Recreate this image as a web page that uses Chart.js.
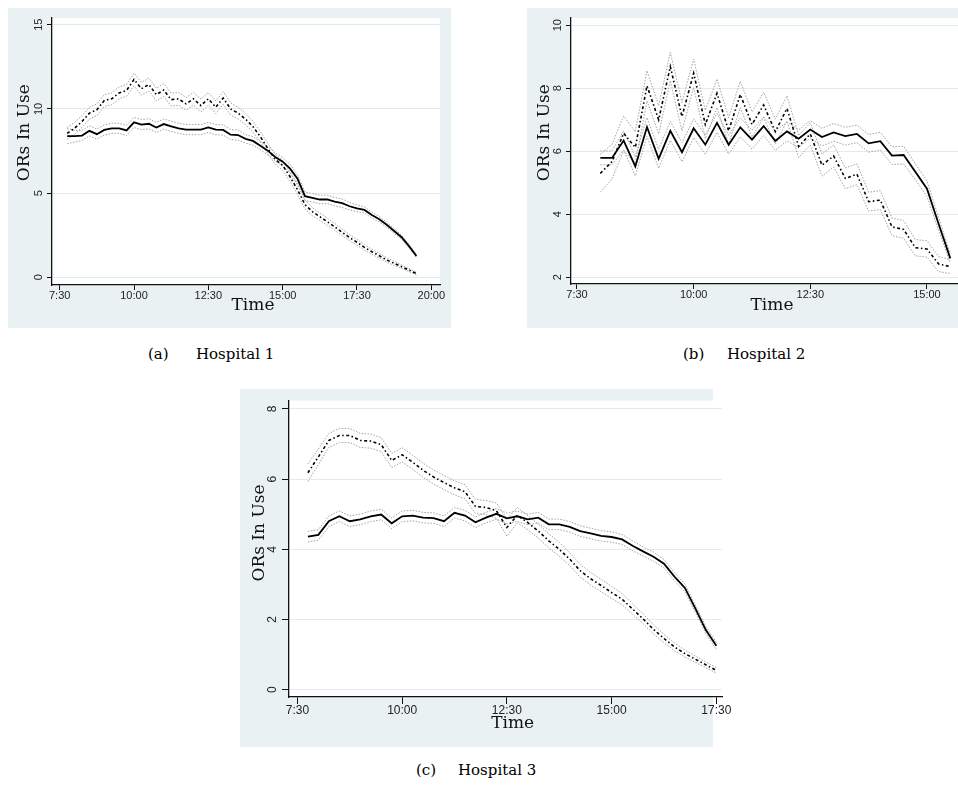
<!DOCTYPE html>
<html><head><meta charset="utf-8">
<script src="https://cdn.jsdelivr.net/npm/chart.js@4.4.1/dist/chart.umd.min.js"></script>
<style>
html,body{margin:0;padding:0;background:#fff;width:958px;height:790px;overflow:hidden;}
.panel{position:absolute;background:rgb(234,241,243);}
canvas{position:absolute;}
.cap{position:absolute;font-family:"DejaVu Serif",serif;font-size:15px;line-height:18px;color:#000;white-space:pre;}
</style></head><body>
<div class="panel" style="left:8px;top:8px;width:443px;height:320px"></div>
<div class="panel" style="left:527px;top:8px;width:431px;height:320px"></div>
<div class="panel" style="left:240px;top:389px;width:473px;height:358px"></div>
<canvas id="cA" width="443" height="320" style="left:8px;top:8px"></canvas>
<canvas id="cB" width="431" height="320" style="left:527px;top:8px"></canvas>
<canvas id="cC" width="495" height="358" style="left:240px;top:389px"></canvas>
<div class="cap" style="left:148px;top:345px">(a)</div><div class="cap" style="left:196px;top:345px">Hospital 1</div>
<div class="cap" style="left:683px;top:345px">(b)</div><div class="cap" style="left:727px;top:345px">Hospital 2</div>
<div class="cap" style="left:416px;top:761px">(c)</div><div class="cap" style="left:458px;top:761px">Hospital 3</div>
<script>
// ---------- DATA ----------
const timesA = ['7:45','8:00','8:15','8:30','8:45','9:00','9:15','9:30','9:45','10:00','10:15','10:30','10:45','11:00','11:15','11:30','11:45','12:00','12:15','12:30','12:45','13:00','13:15','13:30','13:45','14:00','14:15','14:30','14:45','15:00','15:15','15:30','15:45','16:00','16:15','16:30','16:45','17:00','17:15','17:30','17:45','18:00','18:15','18:30','18:45','19:00','19:15','19:30'];
const solidA = [8.38,8.38,8.42,8.7,8.5,8.75,8.85,8.85,8.72,9.2,9.07,9.12,8.9,9.1,8.97,8.85,8.77,8.77,8.77,8.9,8.77,8.75,8.47,8.45,8.22,8.1,7.82,7.52,7.15,6.87,6.45,5.85,4.82,4.72,4.62,4.63,4.49,4.4,4.22,4.1,4.0,3.7,3.45,3.12,2.75,2.38,1.85,1.27];
const solidCiA = [0.45,0.35,0.3,0.3,0.3,0.3,0.3,0.3,0.3,0.3,0.3,0.3,0.3,0.3,0.3,0.3,0.3,0.3,0.3,0.3,0.3,0.3,0.3,0.3,0.25,0.25,0.25,0.25,0.25,0.25,0.25,0.25,0.25,0.25,0.25,0.25,0.25,0.25,0.22,0.2,0.18,0.18,0.16,0.15,0.14,0.12,0.1,0.08];
const dashA = [8.55,8.85,9.25,9.75,9.95,10.5,10.6,10.95,11.1,11.75,11.2,11.45,10.85,11.12,10.55,10.6,10.3,10.6,10.2,10.6,10.1,10.65,10.0,9.75,9.4,8.95,8.35,7.65,7.0,6.65,5.97,5.2,4.32,3.9,3.6,3.3,3.0,2.67,2.36,2.08,1.78,1.52,1.28,1.03,0.83,0.63,0.43,0.22];
const dashCiA = [0.35,0.35,0.35,0.35,0.35,0.35,0.35,0.35,0.35,0.38,0.38,0.38,0.38,0.38,0.38,0.38,0.38,0.38,0.38,0.38,0.38,0.38,0.36,0.35,0.33,0.32,0.3,0.3,0.3,0.3,0.28,0.28,0.26,0.24,0.22,0.22,0.2,0.2,0.18,0.17,0.16,0.15,0.14,0.13,0.12,0.1,0.09,0.08];
const xTicksA = [450,600,750,900,1050,1200];
const xLabelsA = ['7:30','10:00','12:30','15:00','17:30','20:00'];
const yTicksA = [0,5,10,15];
const yLabelsA = ['0','5','10','15'];

const timesB = ['8:00','8:15','8:30','8:45','9:00','9:15','9:30','9:45','10:00','10:15','10:30','10:45','11:00','11:15','11:30','11:45','12:00','12:15','12:30','12:45','13:00','13:15','13:30','13:45','14:00','14:15','14:30','14:45','15:00','15:15','15:30'];
const solidB = [5.79,5.79,6.34,5.52,6.77,5.76,6.65,5.97,6.73,6.21,6.9,6.21,6.76,6.37,6.8,6.33,6.63,6.4,6.69,6.45,6.6,6.48,6.55,6.25,6.32,5.86,5.88,5.35,4.81,3.69,2.6];
const solidCiB = [0.22,0.22,0.3,0.3,0.3,0.3,0.3,0.3,0.3,0.3,0.3,0.3,0.3,0.3,0.3,0.3,0.3,0.28,0.28,0.28,0.28,0.28,0.28,0.28,0.28,0.28,0.28,0.25,0.25,0.2,0.15];
const dashB = [5.3,5.67,6.57,6.12,8.08,7.0,8.69,7.1,8.48,6.85,7.84,6.65,7.8,6.85,7.47,6.62,7.36,6.15,6.55,5.56,5.85,5.14,5.27,4.4,4.45,3.6,3.52,2.94,2.9,2.42,2.34];
const dashCiB = [0.6,0.55,0.55,0.5,0.48,0.45,0.45,0.45,0.45,0.45,0.45,0.42,0.42,0.4,0.4,0.4,0.4,0.35,0.35,0.35,0.35,0.33,0.33,0.3,0.3,0.28,0.28,0.26,0.26,0.24,0.22];
const xTicksB = [450,600,750,900];
const xLabelsB = ['7:30','10:00','12:30','15:00'];
const yTicksB = [2,4,6,8,10];
const yLabelsB = ['2','4','6','8','10'];

const timesC = ['7:45','8:00','8:15','8:30','8:45','9:00','9:15','9:30','9:45','10:00','10:15','10:30','10:45','11:00','11:15','11:30','11:45','12:00','12:15','12:30','12:45','13:00','13:15','13:30','13:45','14:00','14:15','14:30','14:45','15:00','15:15','15:30','15:45','16:00','16:15','16:30','16:45','17:00','17:15','17:30'];
const solidC = [4.36,4.41,4.8,4.94,4.8,4.85,4.94,4.99,4.74,4.94,4.96,4.9,4.89,4.8,5.04,4.96,4.77,4.9,5.01,4.88,4.94,4.85,4.9,4.71,4.71,4.64,4.52,4.45,4.38,4.35,4.28,4.1,3.94,3.79,3.59,3.22,2.9,2.31,1.7,1.25];
const solidCiC = [0.15,0.15,0.15,0.15,0.15,0.15,0.15,0.15,0.15,0.15,0.15,0.15,0.15,0.15,0.15,0.15,0.15,0.15,0.15,0.15,0.15,0.15,0.15,0.15,0.15,0.15,0.15,0.15,0.15,0.15,0.14,0.14,0.13,0.13,0.12,0.12,0.11,0.1,0.1,0.1];
const dashC = [6.18,6.63,7.1,7.24,7.24,7.1,7.08,6.98,6.53,6.69,6.48,6.25,6.06,5.9,5.75,5.64,5.22,5.19,5.1,4.62,4.97,4.76,4.52,4.24,4.0,3.72,3.39,3.16,2.97,2.77,2.58,2.3,2.02,1.72,1.46,1.22,1.03,0.87,0.71,0.55];
const dashCiC = [0.25,0.22,0.2,0.2,0.2,0.2,0.2,0.2,0.2,0.2,0.2,0.2,0.2,0.2,0.2,0.2,0.2,0.2,0.22,0.25,0.22,0.2,0.2,0.2,0.2,0.18,0.18,0.18,0.18,0.17,0.16,0.15,0.14,0.13,0.12,0.11,0.1,0.09,0.08,0.08];
const xTicksC = [450,600,750,900,1050];
const xLabelsC = ['7:30','10:00','12:30','15:00','17:30'];
const yTicksC = [0,2,4,6,8];
const yLabelsC = ['0','2','4','6','8'];

const xTitle = 'Time';
const yTitle = 'ORs In Use';

// ---------- HELPERS ----------
function toMin(s){ const p = s.split(':'); return (+p[0])*60 + (+p[1]); }
function series(times, vals, ci, sign){
  return times.map((t,i)=>({x: toMin(t), y: ci ? vals[i] + sign*ci[i] : vals[i]}));
}
const CI_STYLE = {borderColor:'#a3a3a3', borderWidth:1, borderDash:[1.5,1.5]};
function datasets(times, solid, solidCi, dash, dashCi){
  return [
    Object.assign({data: series(times, solid), borderColor:'#000', borderWidth:1.8}),
    Object.assign({data: series(times, dash), borderColor:'#000', borderWidth:1.6, borderDash:[3,2.5,1.5,2.5]}),
    Object.assign({data: series(times, solid, solidCi, 1)}, CI_STYLE),
    Object.assign({data: series(times, solid, solidCi, -1)}, CI_STYLE),
    Object.assign({data: series(times, dash, dashCi, 1)}, CI_STYLE),
    Object.assign({data: series(times, dash, dashCi, -1)}, CI_STYLE)
  ];
}

const plotBg = {id:'plotBg', beforeDraw(chart){
  const a = chart.chartArea, ctx = chart.ctx;
  ctx.save(); ctx.fillStyle = '#fff'; ctx.fillRect(a.left, a.top, a.right-a.left, a.bottom-a.top); ctx.restore();
}};
const axisTitles = {id:'axisTitles', afterDraw(chart, args, o){
  const ctx = chart.ctx;
  ctx.save(); ctx.fillStyle = '#111'; ctx.font = o.font; ctx.textAlign = 'center'; ctx.textBaseline = 'middle';
  ctx.fillText(o.xText, o.xPos[0], o.xPos[1]);
  ctx.translate(o.yPos[0], o.yPos[1]); ctx.rotate(-Math.PI/2);
  ctx.fillText(o.yText, 0, 0);
  ctx.restore();
}};

function makeChart(id, c){
  const tickFont = {family:'"Liberation Sans", Arial, sans-serif', size:c.tickSize, lineHeight:1};
  return new Chart(document.getElementById(id), {
    type:'line',
    data:{datasets: datasets(c.times, c.solid, c.solidCi, c.dash, c.dashCi)},
    options:{
      responsive:false, animation:false, devicePixelRatio:1,
      layout:{padding:c.pad},
      elements:{point:{radius:0}, line:{tension:0, fill:false}},
      plugins:{legend:{display:false}, tooltip:{enabled:false},
        axisTitles:{font:c.titleFont, xText:xTitle, yText:yTitle, xPos:c.xTitlePos, yPos:c.yTitlePos}},
      scales:{
        x:{type:'linear', bounds:'data', min:c.xMin, max:c.xMax,
          afterFit(s){ s.height = c.xH; },
          afterBuildTicks(s){ s.ticks = c.xTicks.map(v=>({value:v})); },
          ticks:{autoSkip:false, maxRotation:0, padding:c.xPad, color:'#222', font:tickFont,
            callback:(v)=>c.xLabels[c.xTicks.indexOf(v)]},
          grid:{drawOnChartArea:false, drawTicks:true, tickLength:c.tl, tickColor:'#111', tickWidth:1},
          border:{display:true, color:'#111', width:1.3}},
        y:{type:'linear', bounds:'data', min:c.yMin, max:c.yMax,
          afterFit(s){ s.width = c.yW; },
          afterBuildTicks(s){ s.ticks = c.yTicks.map(v=>({value:v})); },
          ticks:{autoSkip:false, minRotation:90, maxRotation:90, crossAlign:'center', padding:c.yPad, color:'#222', font:tickFont,
            callback:(v)=>c.yLabels[c.yTicks.indexOf(v)]},
          grid:{color:'#e2ebee', lineWidth:1, drawTicks:true, tickLength:c.tl, tickColor:'#111', tickWidth:1},
          border:{display:true, color:'#111', width:1.3}}
      }
    },
    plugins:[plotBg, axisTitles]
  });
}

makeChart('cA', {times:timesA, solid:solidA, solidCi:solidCiA, dash:dashA, dashCi:dashCiA,
  xTicks:xTicksA, xLabels:xLabelsA, yTicks:yTicksA, yLabels:yLabelsA,
  xMin:434.46, xMax:1217.56, yMin:-0.457, yMax:15.40,
  pad:{left:0, top:10, right:11, bottom:0}, xH:43, yW:44, tl:5, xPad:0, yPad:2.2, tickSize:11,
  titleFont:'17px "DejaVu Serif", serif', xTitlePos:[245,297.3], yTitlePos:[16.7,124.7]});

makeChart('cB', {times:timesB, solid:solidB, solidCi:solidCiB, dash:dashB, dashCi:dashCiB,
  xTicks:xTicksB, xLabels:xLabelsB, yTicks:yTicksB, yLabels:yLabelsB,
  xMin:442.3, xMax:939.9, yMin:1.787, yMax:10.23,
  pad:{left:0, top:10, right:0, bottom:0}, xH:44, yW:44, tl:5, xPad:0, yPad:2.4, tickSize:11,
  titleFont:'17px "DejaVu Serif", serif', xTitlePos:[245,297.3], yTitlePos:[17.5,124.7]});

makeChart('cC', {times:timesC, solid:solidC, solidCi:solidCiC, dash:dashC, dashCi:dashCiC,
  xTicks:xTicksC, xLabels:xLabelsC, yTicks:yTicksC, yLabels:yLabelsC,
  xMin:437.96, xMax:1058.1, yMin:-0.206, yMax:8.234,
  pad:{left:0, top:9, right:13, bottom:0}, xH:50, yW:49, tl:7, xPad:1, yPad:5.6, tickSize:12,
  titleFont:'17px "DejaVu Serif", serif', xTitlePos:[272.7,334.8], yTitlePos:[19.3,144]});
</script>
</body></html>
